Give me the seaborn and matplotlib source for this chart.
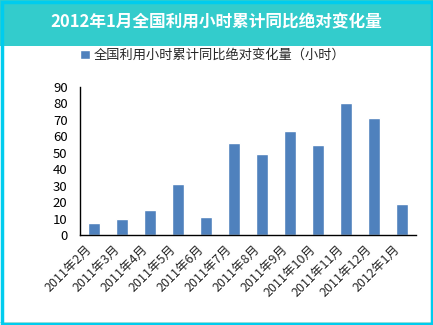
import matplotlib
matplotlib.use("Agg")
import matplotlib.pyplot as plt
import matplotlib.transforms as mtransforms
import seaborn as sns
import pandas as pd
from matplotlib.patches import Rectangle

categories = ["2011年2月", "2011年3月", "2011年4月", "2011年5月", "2011年6月", "2011年7月",
              "2011年8月", "2011年9月", "2011年10月", "2011年11月", "2011年12月", "2012年1月"]
values = [7.3, 9.7, 15.2, 31.0, 10.9, 56.0, 49.3, 63.3, 54.7, 80.3, 71.2, 18.9]
yticks = [0, 10, 20, 30, 40, 50, 60, 70, 80, 90]
title = "2012年1月全国利用小时累计同比绝对变化量"
series_name = "全国利用小时累计同比绝对变化量（小时）"

sns.set_style("white")
plt.rcParams['font.family'] = ['Noto Sans CJK SC', 'DejaVu Sans']

W, H = 433, 325
fig = plt.figure(figsize=(W / 100, H / 100), dpi=100)
fig.patch.set_facecolor("white")

# banner and border
fig.patches.append(Rectangle((0, 1 - 46 / H), 1, 46 / H, transform=fig.transFigure,
                             facecolor="#33CCCC", edgecolor="none", zorder=0))
fig.patches.append(Rectangle((0, 2 / H), 1, 1.2 / H, transform=fig.transFigure,
                             facecolor="#C6E3D2", edgecolor="none", zorder=1))
fig.patches.append(Rectangle((1.5 / W, 1.5 / H), 1 - 3 / W, 1 - 3 / H, transform=fig.transFigure,
                             facecolor="none", edgecolor="#00CCEE", linewidth=2.5, zorder=2))
fig.text(0.5, 1 - 22 / H, title, ha="center", va="center", color="white",
         fontsize=12, fontweight="bold")

ax = fig.add_axes([80 / W, 1 - 235 / H, 336 / W, 148 / H])
df = pd.DataFrame({"month": categories, "value": values})
sns.barplot(data=df, x="month", y="value", color="#4F81BD", width=0.4,
            saturation=1, ax=ax, label=series_name)

ax.set_ylim(0, 90)
ax.set_xlim(-0.5, len(categories) - 0.5)
ax.set_yticks(yticks)
ax.set_xlabel("")
ax.set_ylabel("")
for s in ["top", "right"]:
    ax.spines[s].set_visible(False)
for s in ["left", "bottom"]:
    ax.spines[s].set_color("black")
    ax.spines[s].set_linewidth(1)
ax.tick_params(axis="y", direction="in", length=3, width=1, labelsize=9.5, pad=9, colors="black")
ax.tick_params(axis="x", which="major", length=0, labelsize=9, pad=9)
ax.set_xticks([i - 0.5 for i in range(len(categories) + 1)], minor=True)
ax.tick_params(axis="x", which="minor", direction="in", length=3, width=1, color="black")
offset = mtransforms.ScaledTranslation(-4 / 100, 0, fig.dpi_scale_trans)
for lab in ax.get_xticklabels():
    lab.set_rotation(45)
    lab.set_ha("right")
    lab.set_va("center")
    lab.set_rotation_mode("anchor")
    lab.set_transform(lab.get_transform() + offset)

leg = ax.legend(loc="center left", bbox_to_anchor=(80 / W, 1 - 55.5 / H),
                bbox_transform=fig.transFigure, frameon=False,
                fontsize=9.5, handlelength=0.75, handleheight=0.75, handletextpad=0.25,
                borderaxespad=0, borderpad=0)

fig.savefig("out.png", dpi=100, facecolor="white")
